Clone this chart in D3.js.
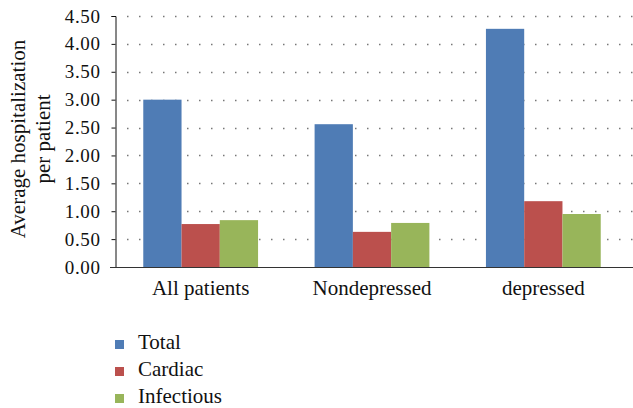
<!DOCTYPE html>
<html>
<head>
<meta charset="utf-8">
<script src="https://cdn.jsdelivr.net/npm/d3@7"></script>
</head>
<body style="margin:0; background:#fff">
<svg width="633" height="408"></svg>
<script>
var categories = ["All patients", "Nondepressed", "depressed"];
var series = ["Total", "Cardiac", "Infectious"];
var total = [3.00, 2.56, 4.27];
var cardiac = [0.77, 0.63, 1.18];
var infectious = [0.84, 0.79, 0.95];
var yTicks = [0, 0.5, 1, 1.5, 2, 2.5, 3, 3.5, 4, 4.5];
var colors = ["#4f7cb5", "#bb504d", "#98b55a"];

var FONT = "'Liberation Serif'";
var svg = d3.select("svg");

var margin = {left: 115, right: 4, top: 16, bottom: 141};
var plotW = 633 - margin.left - margin.right,
    plotH = 408 - margin.top - margin.bottom;

var values = [total, cardiac, infectious];
var rows = categories.map(function(c, i) {
  return {cat: c, vals: series.map(function(s, j) { return {key: s, v: values[j][i]}; })};
});

var x0 = d3.scaleBand().domain(categories)
    .range([margin.left, margin.left + 514])
    .paddingInner(0.33).paddingOuter(0.165);
var x1 = d3.scaleBand().domain(series).range([0, x0.bandwidth()]);
var y = d3.scaleLinear().domain([0, 4.5]).range([margin.top + plotH, margin.top]);

// dotted grid
svg.append("g")
  .selectAll("line")
  .data(yTicks.slice(1))
  .enter().append("line")
    .attr("x1", margin.left + 12)
    .attr("x2", 633)
    .attr("y1", function(d) { return Math.round(y(d)) + 0.5; })
    .attr("y2", function(d) { return Math.round(y(d)) + 0.5; })
    .attr("stroke", "#777")
    .attr("stroke-width", 1.5)
    .attr("stroke-dasharray", "1.5,10.5");

// bars
var grp = svg.append("g")
  .selectAll("g")
  .data(rows)
  .enter().append("g")
    .attr("transform", function(d) { return "translate(" + x0(d.cat) + ",0)"; });

grp.selectAll("rect")
  .data(function(d) { return d.vals; })
  .enter().append("rect")
    .attr("x", function(d) { return x1(d.key); })
    .attr("width", x1.bandwidth())
    .attr("y", function(d) { return y(d.v); })
    .attr("height", function(d) { return y(0) - y(d.v); })
    .attr("fill", function(d, i) { return colors[i]; });

// y axis
var yAxis = svg.append("g")
    .attr("transform", "translate(" + (margin.left + 0.5) + ",0)")
    .call(d3.axisLeft(y).tickValues(yTicks).tickFormat(d3.format(".2f")).tickSize(4).tickPadding(11));
yAxis.select(".domain").attr("stroke", "#111");
yAxis.selectAll(".tick line").attr("stroke", "#111");
yAxis.selectAll("text")
    .style("font-family", FONT)
    .style("font-size", "19px")
    .style("letter-spacing", "0.6px")
    .attr("fill", "#111");

// x axis baseline
svg.append("line")
    .attr("x1", 110).attr("x2", 633)
    .attr("y1", y(0) + 0.5).attr("y2", y(0) + 0.5)
    .attr("stroke", "#333").attr("stroke-width", 1.2);

svg.append("g")
  .selectAll("text")
  .data(categories)
  .enter().append("text")
    .attr("x", function(d) { return x0(d) + x0.bandwidth() / 2; })
    .attr("y", 295)
    .attr("text-anchor", "middle")
    .style("font-family", FONT)
    .style("font-size", "21px")
    .attr("fill", "#111")
    .text(function(d) { return d; });

// y title
var yt = svg.append("text")
    .attr("transform", "translate(25,139) rotate(-90)")
    .attr("text-anchor", "middle")
    .style("font-family", FONT)
    .style("font-size", "21px")
    .attr("fill", "#111");
yt.append("tspan").attr("x", 0).attr("dy", 0).text("Average hospitalization");
yt.append("tspan").attr("x", 0).attr("dy", 25).text("per patient");

// legend
var leg = svg.append("g")
  .selectAll("g")
  .data(series)
  .enter().append("g")
    .attr("transform", function(d, i) { return "translate(115," + (349 + i * 27) + ")"; });
leg.append("rect")
    .attr("x", 0).attr("y", -9)
    .attr("width", 9).attr("height", 9)
    .attr("fill", function(d, i) { return colors[i]; });
leg.append("text")
    .attr("x", 23).attr("y", 0)
    .style("font-family", FONT)
    .style("font-size", "21px")
    .attr("fill", "#111")
    .text(function(d) { return d; });
</script>
</body>
</html>
